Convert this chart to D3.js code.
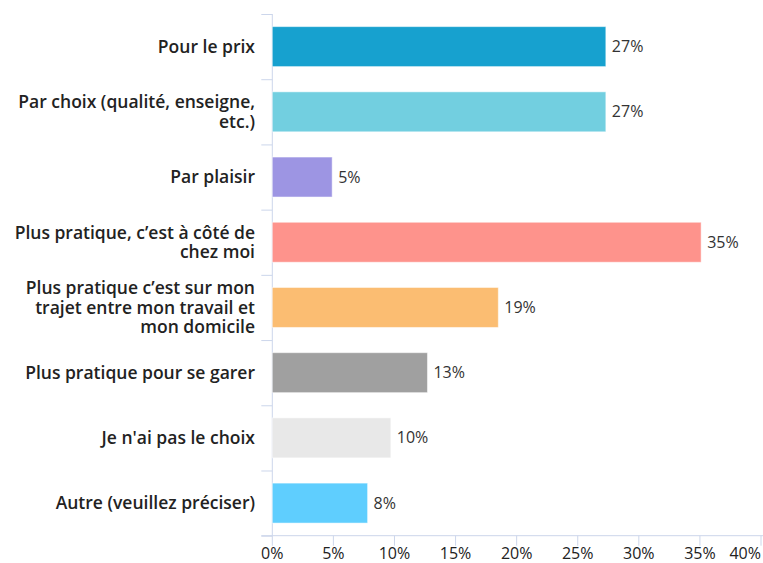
<!DOCTYPE html>
<html>
<head>
<meta charset="UTF-8" />
<title>Raisons du choix</title>
<script src="https://d3js.org/d3.v7.min.js"></script>
<style>
  body { margin: 0; background: #fff; }
  svg { font-family: "Open Sans", sans-serif; display: block; }
</style>
</head>
<body>
<div id="chart"><svg></svg></div>
<script>
const categories = [
  "Pour le prix",
  "Par choix (qualité, enseigne, etc.)",
  "Par plaisir",
  "Plus pratique, c’est à côté de chez moi",
  "Plus pratique c’est sur mon trajet entre mon travail et mon domicile",
  "Plus pratique pour se garer",
  "Je n'ai pas le choix",
  "Autre (veuillez préciser)"
];
const values = [27.3, 27.3, 4.9, 35.1, 18.5, 12.7, 9.7, 7.8];
const valueLabels = ["27%", "27%", "5%", "35%", "19%", "13%", "10%", "8%"];
const colors = ["#17a1cf", "#72cfe0", "#9d95e3", "#fe938c", "#fbbd72", "#a0a0a0", "#e8e8e8", "#5fcefe"];
const xTicks = [0, 5, 10, 15, 20, 25, 30, 35, 40];

const width = 763, height = 563;
const margin = {top: 14, right: 2, bottom: 27.3, left: 272.3};

const svg = d3.select('svg').attr('width', width).attr('height', height);

const x = d3.scaleLinear().domain([0, 40]).range([margin.left, 761]);
const y = d3.scaleBand().domain(categories)
  .range([margin.top, height - margin.bottom])
  .paddingInner(0.387).paddingOuter(0.1935);

const axisColor = '#ccd6eb';
const step = y.step();

// y axis line + ticks at band boundaries
svg.append('line')
  .attr('x1', margin.left).attr('x2', margin.left)
  .attr('y1', margin.top).attr('y2', height - margin.bottom)
  .attr('stroke', axisColor);
svg.append('g').selectAll('line')
  .data(d3.range(categories.length + 1))
  .join('line')
  .attr('x1', margin.left - 11).attr('x2', margin.left)
  .attr('y1', i => margin.top + i * step + 0.5)
  .attr('y2', i => margin.top + i * step + 0.5)
  .attr('stroke', axisColor);

// x axis
const xAxisY = height - margin.bottom;
svg.append('line')
  .attr('x1', margin.left - 11).attr('x2', width)
  .attr('y1', xAxisY).attr('y2', xAxisY)
  .attr('stroke', axisColor);
const xt = svg.append('g').selectAll('g').data(xTicks).join('g');
xt.append('line')
  .attr('x1', d => x(d)).attr('x2', d => x(d))
  .attr('y1', xAxisY).attr('y2', xAxisY + 10)
  .attr('stroke', axisColor);
xt.append('text')
  .attr('x', (d, i) => i === xTicks.length - 1 ? width - 2 : x(d))
  .attr('y', 559)
  .attr('text-anchor', (d, i) => i === xTicks.length - 1 ? 'end' : 'middle')
  .attr('font-size', 16)
  .attr('fill', '#222')
  .text(d => d + '%');

// bars
svg.append('g').selectAll('rect')
  .data(values)
  .join('rect')
  .attr('x', x(0))
  .attr('y', (d, i) => y(categories[i]))
  .attr('width', d => x(d) - x(0))
  .attr('height', y.bandwidth())
  .attr('fill', (d, i) => colors[i])
  .attr('stroke', '#fff')
  .attr('stroke-opacity', 0.5);

// value labels
svg.append('g').selectAll('text')
  .data(values)
  .join('text')
  .attr('x', d => x(d) + 6)
  .attr('y', (d, i) => y(categories[i]) + y.bandwidth() / 2)
  .attr('dy', '0.35em')
  .attr('font-size', 16)
  .attr('fill', '#333')
  .text((d, i) => valueLabels[i]);

// category labels, wrapped
const labelX = 255, maxW = 248, lineH = 19.5;
const labels = svg.append('g').selectAll('text')
  .data(categories)
  .join('text')
  .attr('text-anchor', 'end')
  .attr('font-size', 17.5)
  .attr('font-weight', 600)
  .attr('fill', '#222');

labels.each(function(d) {
  const t = d3.select(this);
  const words = d.split(' ');
  const lines = [];
  let line = [];
  const probe = t.append('tspan');
  words.forEach(w => {
    const test = line.concat([w]).join(' ');
    probe.text(test);
    if (probe.node().getComputedTextLength() > maxW && line.length) {
      lines.push(line.join(' '));
      line = [w];
    } else {
      line.push(w);
    }
  });
  lines.push(line.join(' '));
  probe.remove();
  const cy = y(d) + y.bandwidth() / 2;
  const y0 = cy - (lines.length - 1) * lineH / 2;
  lines.forEach((l, i) => {
    t.append('tspan')
      .attr('x', labelX)
      .attr('y', y0 + i * lineH)
      .attr('dy', '0.35em')
      .text(l);
  });
});
</script>
</body>
</html>
